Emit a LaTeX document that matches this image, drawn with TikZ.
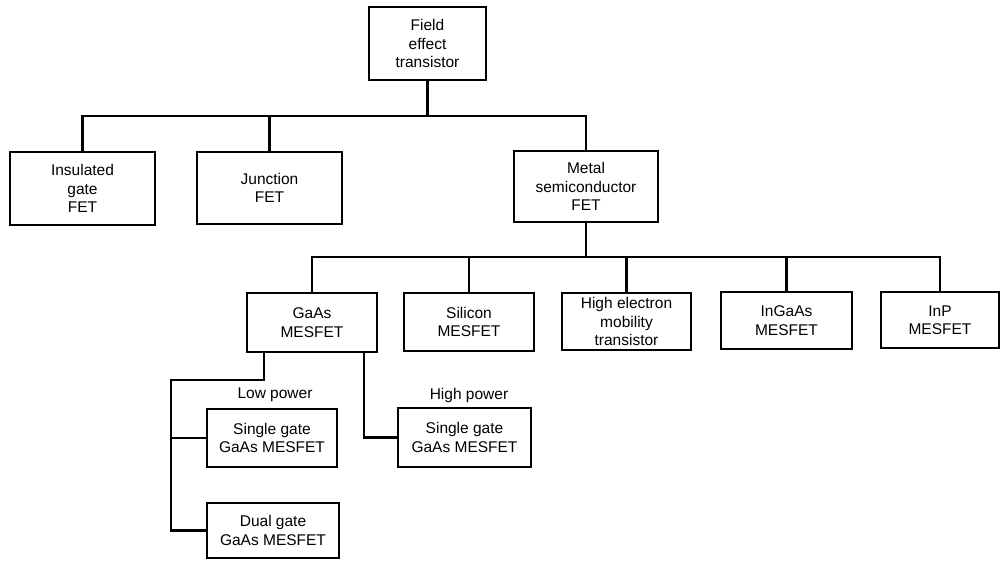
\documentclass[tikz,border=0pt]{standalone}
\usepackage{fontspec}
\setmainfont{Liberation Sans}
\begin{document}
\begin{tikzpicture}[x=1pt,y=-1pt,
  box/.style={draw=black,line width=1.2pt,align=center,inner sep=0pt,
    font=\fontsize{15.5}{18.5}\selectfont},
  conn/.style={draw=black,line width=2.3pt,line cap=rect,line join=miter},
  lab/.style={font=\fontsize{15.5}{18.5}\selectfont,inner sep=0pt}]
\useasboundingbox[fill=white] (0,0) rectangle (1000,561);
% level 0
\node[box,minimum width=117pt,minimum height=73pt] (fet) at (427.5,43.5) {Field\\effect\\transistor};
% level 1
\node[box,minimum width=145pt,minimum height=73pt] (igfet) at (82.5,188.5) {Insulated\\gate\\FET};
\node[box,minimum width=145pt,minimum height=72pt] (jfet) at (269.5,188) {Junction\\FET};
\node[box,minimum width=144pt,minimum height=71pt] (mesfet) at (586,186.5) {Metal\\semiconductor\\FET};
% level 2
\node[box,minimum width=130pt,minimum height=59pt] (gaas) at (312,322.5) {GaAs\\MESFET};
\node[box,minimum width=130pt,minimum height=58pt] (si) at (469,322) {Silicon\\MESFET};
\node[box,minimum width=129pt,minimum height=57pt] (hemt) at (626.5,321.5) {High electron\\mobility\\transistor};
\node[box,minimum width=131pt,minimum height=57pt] (ingaas) at (786.5,320.5) {InGaAs\\MESFET};
\node[box,minimum width=118pt,minimum height=56pt] (inp) at (940,320) {InP\\MESFET};
% level 3
\node[box,minimum width=130pt,minimum height=58pt] (lpsg) at (272,438) {Single gate\\GaAs MESFET};
\node[box,minimum width=132pt,minimum height=55pt] (dg) at (273,530.5) {Dual gate\\GaAs MESFET};
\node[box,minimum width=133pt,minimum height=59pt] (hpsg) at (464.5,437.5) {Single gate\\GaAs MESFET};
\node[lab] (lp) at (275,395) {Low power};
\node[lab] (hp) at (469,395) {High power};
% buses
\coordinate (bus1) at (0,116);
\coordinate (bus2) at (0,257);
\draw[conn] (igfet.north) -- (igfet.north |- bus1) -- (mesfet.north |- bus1) -- (mesfet.north);
\draw[conn] (jfet.north) -- (jfet.north |- bus1);
\draw[conn] (fet.south) -- (fet.south |- bus1);
\draw[conn] (gaas.north) -- (gaas.north |- bus2) -- (inp.north |- bus2) -- (inp.north);
\draw[conn] (si.north) -- (si.north |- bus2);
\draw[conn] (hemt.north) -- (hemt.north |- bus2);
\draw[conn] (ingaas.north) -- (ingaas.north |- bus2);
\draw[conn] (mesfet.south) -- (mesfet.south |- bus2);
% GaAs sub-branches
\coordinate (gl) at (264,0);
\coordinate (lx) at (264,380);
\coordinate (rail) at (171,380);
\coordinate (gr) at (364,0);
\draw[conn] (gl |- gaas.south) -- (lx) -- (rail) |- (dg.west);
\draw[conn] (rail |- lpsg.west) -- (lpsg.west);
\draw[conn] (gr |- gaas.south) |- (hpsg.west);
\end{tikzpicture}
\end{document}
